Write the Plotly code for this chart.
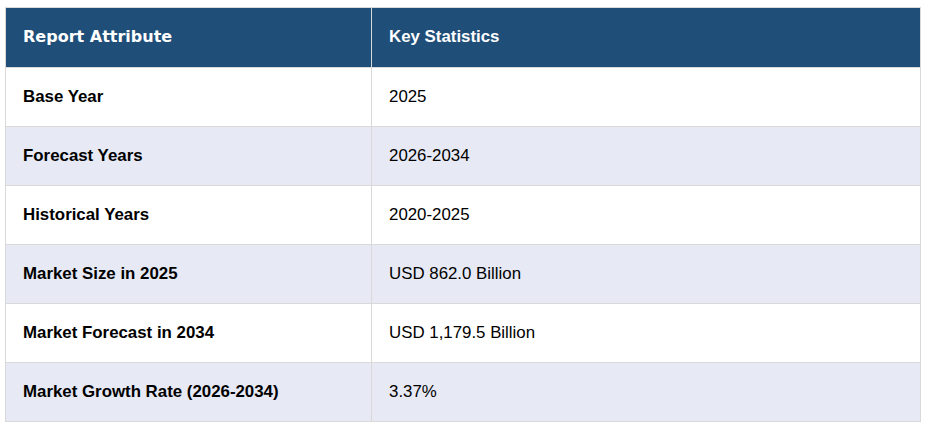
import plotly.graph_objects as go

header_labels = ["Report Attribute", "Key Statistics"]
attributes = ["Base Year", "Forecast Years", "Historical Years", "Market Size in 2025",
              "Market Forecast in 2034", "Market Growth Rate (2026-2034)"]
statistics = ["2025", "2026-2034", "2020-2025", "USD 862.0 Billion",
              "USD 1,179.5 Billion", "3.37%"]

W, H = 933, 424
PAD = "&nbsp;" * 3
FONT = "Liberation Sans, Arial"


def fmt(text, bold, style="font-size:16.85px"):
    inner = "<b>" + text + "</b>" if bold else text
    return "&nbsp;<br>" + PAD + '<span style="' + style + '">' + inner + "</span>"


header_styles = ["font-family:DejaVu Sans;font-size:16px", "font-size:16.85px"]
row_fill = ["#ffffff" if i % 2 == 0 else "#e7e9f5" for i in range(len(attributes))]

fig = go.Figure(go.Table(
    columnwidth=[366, 549],
    header=dict(
        values=[fmt(h, True, s) for h, s in zip(header_labels, header_styles)],
        fill_color="#1f4e79",
        line_color="#d9d9d9",
        line_width=1,
        align="left",
        height=60,
        font=dict(family=FONT, size=12, color="#ffffff"),
    ),
    cells=dict(
        values=[[fmt(a, True) for a in attributes], [fmt(s, False) for s in statistics]],
        fill_color=[row_fill, row_fill],
        line_color="#d9d9d9",
        line_width=1,
        align="left",
        height=59,
        font=dict(family=FONT, size=12, color="#000000"),
    ),
))
fig.update_layout(
    width=W, height=H,
    margin=dict(l=5, r=13, t=7, b=0),
    paper_bgcolor="#ffffff",
)
fig.write_html("out.html", config={"displayModeBar": False},
               post_script="document.body.style.margin='0';")
